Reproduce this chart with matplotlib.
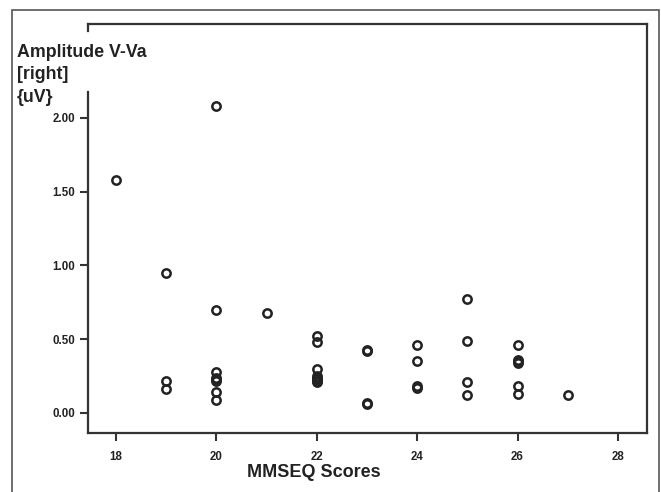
import matplotlib.pyplot as plt
from matplotlib.patches import Rectangle

plt.rcParams['font.family'] = ['Liberation Sans', 'DejaVu Sans']

# MMSEQ score and amplitude V-Va [right] (uV)
scores = [18,
          19, 19, 19,
          20, 20, 20, 20, 20, 20, 20, 20,
          21,
          22, 22, 22, 22, 22, 22, 22, 22,
          23, 23, 23, 23,
          24, 24, 24, 24,
          25, 25, 25, 25,
          26, 26, 26, 26, 26, 26,
          27]
amplitude = [1.58,
             0.95, 0.22, 0.16,
             2.08, 0.70, 0.28, 0.24, 0.23, 0.22, 0.14, 0.09,
             0.68,
             0.52, 0.48, 0.30, 0.25, 0.24, 0.23, 0.22, 0.21,
             0.43, 0.42, 0.07, 0.06,
             0.46, 0.35, 0.18, 0.17,
             0.77, 0.49, 0.21, 0.12,
             0.46, 0.36, 0.35, 0.34, 0.18, 0.13,
             0.12]

x_ticks = [18, 20, 22, 24, 26, 28]
y_ticks = [0.0, 0.5, 1.0, 1.5, 2.0]

fig = plt.figure(figsize=(6.61, 4.92), dpi=100)
ax = fig.add_axes([0.1331, 0.1199, 0.8457, 0.8313])

ax.plot(scores, amplitude, linestyle='none', marker='o', markersize=6,
        markerfacecolor='none', markeredgecolor='#222222', markeredgewidth=1.8)

ax.set_xlim(17.44, 28.58)
ax.set_ylim(-0.136, 2.637)
ax.set_xticks(x_ticks)
ax.set_yticks(y_ticks)
ax.set_yticklabels(['%.2f' % v for v in y_ticks])

for s in ax.spines.values():
    s.set_linewidth(1.6)
    s.set_color('#333333')
ax.spines['left'].set_bounds(-0.136, 2.176)

ax.tick_params(axis='both', direction='out', length=6, width=1.5,
               color='#333333', labelsize=8.3, labelcolor='#222222')
ax.tick_params(axis='x', pad=7)
ax.tick_params(axis='y', pad=3)
for lab in ax.get_xticklabels() + ax.get_yticklabels():
    lab.set_fontweight('bold')

# little stub at the top-left corner
ax.plot([0, 0], [1, 0.982], transform=ax.transAxes, color='#333333',
        linewidth=1.6, clip_on=False)

fig.text(17 / 661, 1 - 44 / 492, 'Amplitude V-Va\n[right]\n{uV}',
         fontsize=12.8, fontweight='bold', color='#222222',
         ha='left', va='top', linespacing=1.42)
fig.text(314 / 661, 1 - 477 / 492, 'MMSEQ Scores', fontsize=13,
         fontweight='bold', color='#222222', ha='center', va='baseline')

# outer frame
fig.patches.append(Rectangle((12 / 661, -0.02), 647 / 661, 1 - 10 / 492 + 0.02,
                             transform=fig.transFigure, fill=False,
                             edgecolor='#555555', linewidth=1.2))

fig.savefig('out.png', dpi=100)
